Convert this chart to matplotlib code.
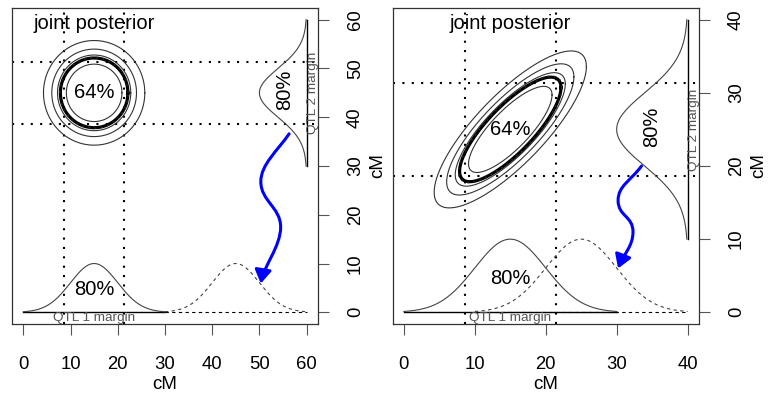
import numpy as np
import matplotlib.pyplot as plt
from matplotlib.patches import FancyArrowPatch
from matplotlib.path import Path

plt.rcParams['font.family'] = ['Liberation Sans', 'DejaVu Sans']

# marginal posterior shape (normal, sd in cM, drawn +-15 cM around its mean)
marg_sd = 5.0
marg_peak = 10.0
marg_half = 15.0
interval_z = 1.2816          # 80% interval
contour_levels = [0.50, 0.70, 0.80, 0.90]
joint_level = 0.64

# left panel: unlinked QTL
left_max = 60
left_ticks = [0, 10, 20, 30, 40, 50, 60]
left_qtl1_means = [15, 45]
left_qtl2_mean = 45
left_rho = 0.0
left_label80 = (55.4, 45.6)
left_arrow_x = [56.3, 53.8, 50.3, 50.3, 50.3, 54.5, 54.5, 54.5, 50.9, 50.3]
left_arrow_y = [36.6, 33.1, 30.3, 26.8, 22.8, 21.5, 17.5, 13.5, 9.4, 5.9]

# right panel: linked QTL
right_max = 40
right_ticks = [0, 10, 20, 30, 40]
right_qtl1_means = [15, 25]
right_qtl2_mean = 25
right_rho = 0.8
right_label80 = (34.9, 25.4)
right_arrow_x = [33.5, 32.0, 30.2, 30.2, 30.2, 32.3, 32.3, 32.3, 31.0, 30.2]
right_arrow_y = [20.0, 18.0, 17.3, 15.3, 13.1, 13.2, 11.0, 9.0, 8.0, 6.0]


def normal_bump(mean, grid):
    return marg_peak * np.exp(-0.5 * ((grid - mean) / marg_sd) ** 2)


def draw_ellipse(ax, mean, rho, level, **kw):
    t = np.linspace(0, 2 * np.pi, 300)
    r = np.sqrt(-2 * np.log(1 - level))
    u = r * np.cos(t)
    v = r * np.sin(t)
    x = mean[0] + marg_sd * u
    y = mean[1] + marg_sd * (rho * u + np.sqrt(1 - rho ** 2) * v)
    ax.plot(x, y, **kw)


def draw_arrow(ax, xs, ys):
    verts = list(zip(xs, ys))
    codes = [Path.MOVETO] + [Path.CURVE4] * (len(verts) - 1)
    arrow = FancyArrowPatch(
        path=Path(verts, codes),
        arrowstyle='-|>,head_length=0.8,head_width=0.5',
        mutation_scale=10, color='#0000ff', lw=2.2)
    ax.add_patch(arrow)


def plot_panel(ax, xmax, ticks, qtl1_means, qtl2_mean, rho, label80,
               arrow_x, arrow_y):
    grey = '#444444'
    dots = dict(color='black', lw=1.5, linestyle=(0, (1, 3.5)),
                dash_capstyle='butt')

    # 80% intervals of the marginals
    for m in [qtl1_means[0] - interval_z * marg_sd,
              qtl1_means[0] + interval_z * marg_sd]:
        ax.axvline(m, **dots)
    for m in [qtl2_mean - interval_z * marg_sd,
              qtl2_mean + interval_z * marg_sd]:
        ax.axhline(m, **dots)

    # joint posterior contours
    centre = (qtl1_means[0], qtl2_mean)
    for lev in contour_levels:
        draw_ellipse(ax, centre, rho, lev, color='#333333', lw=0.8)
    draw_ellipse(ax, centre, rho, joint_level, color='black', lw=2.3)
    draw_ellipse(ax, centre, rho, joint_level + 0.01, color='#222222',
                 lw=1.3, linestyle=(0, (1, 2.5)))

    # QTL 1 margin along the bottom
    for i, m in enumerate(qtl1_means):
        grid = np.linspace(m - marg_half, m + marg_half, 200)
        style = '-' if i == 0 else (0, (3, 3))
        ax.plot(grid, normal_bump(m, grid), color=grey, lw=0.8, linestyle=style)
        ax.plot([grid[0], grid[-1]], [0, 0], color='black',
                lw=1.0 if i == 0 else 0.8, linestyle=style, zorder=1)

    # QTL 2 margin along the right edge
    grid = np.linspace(qtl2_mean - marg_half, qtl2_mean + marg_half, 200)
    ax.plot(xmax - normal_bump(qtl2_mean, grid), grid, color=grey, lw=0.8)
    ax.plot([xmax, xmax], [grid[0], grid[-1]], color='black', lw=1.0)

    draw_arrow(ax, arrow_x, arrow_y)

    ax.text(qtl1_means[0], xmax * 0.988, 'joint posterior', fontsize=14.5,
            ha='center', va='center')
    ax.text(qtl1_means[0], qtl2_mean, '64%', fontsize=14.5,
            ha='center', va='center')
    ax.text(qtl1_means[0], 4.6, '80%', fontsize=14.5, ha='center', va='center')
    ax.text(qtl1_means[0], -0.018 * xmax, 'QTL 1 margin', fontsize=9.7,
            color='#555555', ha='center', va='center')
    ax.text(label80[0], label80[1], '80%', fontsize=14.5,
            rotation=90, ha='center', va='center')
    ax.text(xmax + 0.021 * xmax, qtl2_mean, 'QTL 2 margin', fontsize=9.7,
            color='#555555', rotation=90, ha='center', va='center')

    pad = 0.04 * xmax
    ax.set_xlim(-pad, xmax + pad)
    ax.set_ylim(-pad, xmax + pad)
    ax.set_xticks(ticks)
    ax.set_xticklabels([str(t) for t in ticks])
    ax.yaxis.tick_right()
    ax.yaxis.set_label_position('right')
    ax.set_yticks(ticks)
    ax.set_yticklabels([str(t) for t in ticks], rotation=90, va='center')
    ax.tick_params(axis='both', length=8, width=0.8, color='#555555',
                   labelsize=13.3)
    ax.tick_params(axis='x', pad=15)
    ax.tick_params(axis='y', pad=13)
    ax.set_xlabel('cM', fontsize=13.5, labelpad=2.5)
    ax.set_ylabel('cM', fontsize=13.5, labelpad=4)
    for sp in ax.spines.values():
        sp.set_color('#333333')
        sp.set_linewidth(0.9)


fig = plt.figure(figsize=(7.68, 3.94), dpi=100)
ax1 = fig.add_axes([0.0156, 0.1777, 0.3984, 0.802])
ax2 = fig.add_axes([0.5111, 0.1777, 0.399, 0.802])

plot_panel(ax1, left_max, left_ticks, left_qtl1_means, left_qtl2_mean,
           left_rho, left_label80, left_arrow_x, left_arrow_y)
plot_panel(ax2, right_max, right_ticks, right_qtl1_means, right_qtl2_mean,
           right_rho, right_label80, right_arrow_x, right_arrow_y)

fig.savefig('out.png', dpi=100)
